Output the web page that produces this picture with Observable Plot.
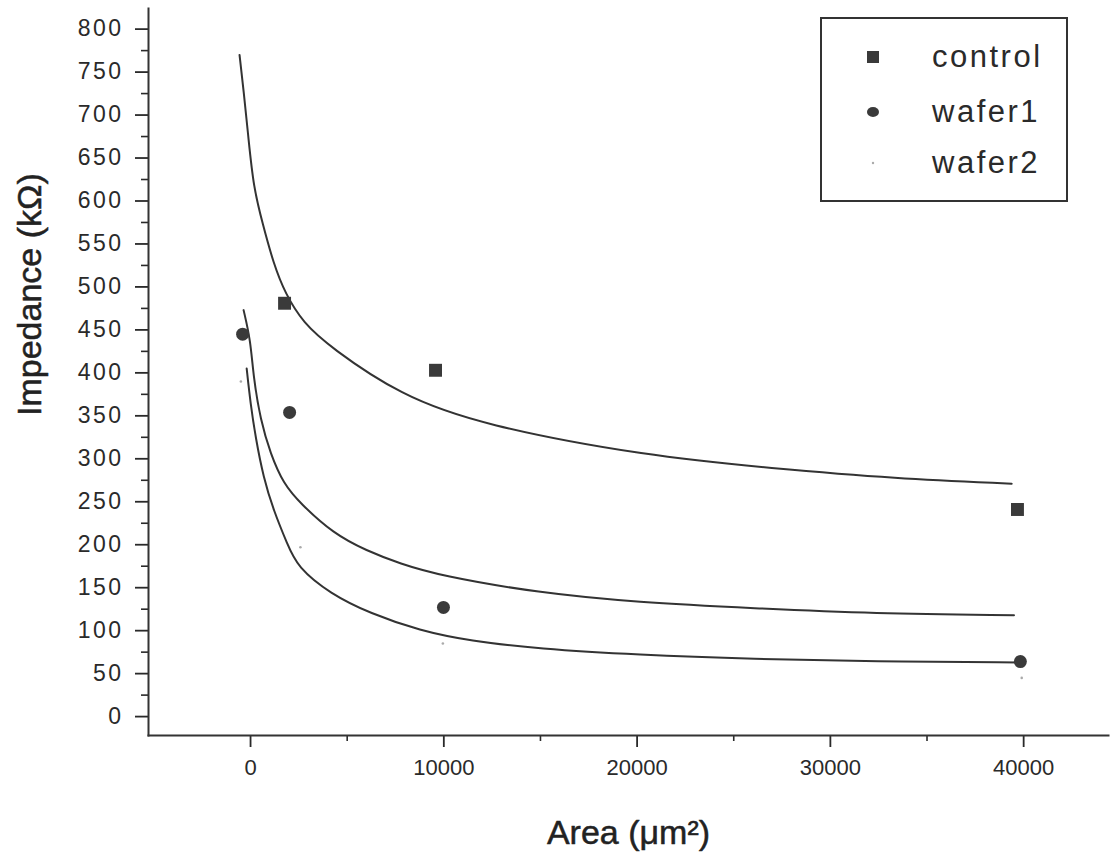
<!DOCTYPE html>
<html><head><meta charset="utf-8">
<script src="https://cdn.jsdelivr.net/npm/d3@7"></script>
<script src="https://cdn.jsdelivr.net/npm/@observablehq/plot@0.6"></script>
<style>
body{margin:0;background:#fff;}
#wrap{position:relative;width:1111px;height:857px;background:#fff;}
#legend{position:absolute;left:820px;top:17px;width:248px;height:185px;border:2px solid #333;box-sizing:border-box;font-family:Arial,"Liberation Sans",sans-serif;color:#2a2a2a;}
#legend .row{position:absolute;left:0;width:100%;height:40px;}
#legend svg{position:absolute;left:40px;top:8px;}
#legend span{position:absolute;left:110px;top:0;font-size:31px;line-height:40px;letter-spacing:2.5px;}
</style></head>
<body><div id="wrap"><div id="chart"></div><div id="legend"></div></div>
<script>
// Tick values
const yTicks = [0,50,100,150,200,250,300,350,400,450,500,550,600,650,700,750,800];
const yMinor = [25,75,125,175,225,275,325,375,425,475,525,575,625,675,725,775];
const xTicks = [0,10000,20000,30000,40000];
const xMinor = [5000,15000,25000,35000];

// Measured points (Area µm², Impedance kΩ)
const controlArea = [1760, 9570, 39680];
const controlImp  = [481, 403, 241];
const wafer1Area  = [-410, 2020, 9980, 39830];
const wafer1Imp   = [445, 354, 127, 64];
const wafer2Area  = [-500, 2580, 9950, 39900];
const wafer2Imp   = [390, 197, 85, 45];

// Fitted curves
const fitControlArea = [-570,-360,-100,155,620,1190,1800,2730,4120,7730,12000,20570,26960,33400,39380];
const fitControlImp  = [770,729,671,616,574,527,492,458,430,374,339,303,289,277,271];
const fitW1Area = [-360,0,150,515,1030,1700,2580,4280,6000,7730,9800,14900,20000,26080,32200,39500];
const fitW1Imp  = [473,438,395,345,306,271,248,213,193,178,164,144,133,126,120,118];
const fitW2Area = [-200,0,260,670,1190,1900,2420,4120,6190,8760,11340,14900,20000,26080,32200,39950];
const fitW2Imp  = [405,364,325,278,240,201,174,143,120,100,88,79,72,67,64,63];

const seriesNames = ["control","wafer1","wafer2"];

const zip = (xs, ys) => xs.map((x,i)=>({x, y: ys[i]}));
const ink = "#333";

const chart = Plot.plot({
  width:1111, height:857,
  marginLeft:148, marginRight:3, marginTop:8, marginBottom:122,
  x:{domain:[-5280,44390]},
  y:{domain:[-22,824]},
  style:{fontFamily:"Arial, 'Liberation Sans', sans-serif", background:"#fff", color:"#2a2a2a"},
  marks:[
    Plot.axisY({ticks:yTicks, tickSize:13, tickPadding:12, fontSize:23, label:null, tickFormat:d3.format("d"), strokeWidth:1.8}),
    Plot.axisY({ticks:yMinor, tickSize:7, tickFormat:()=>"" , label:null, strokeWidth:1.6}),
    Plot.axisX({ticks:xTicks, tickSize:12, tickPadding:12, fontSize:22, label:null, tickFormat:d3.format("d"), strokeWidth:1.8}),
    Plot.axisX({ticks:xMinor, tickSize:6, tickFormat:()=>"", label:null, strokeWidth:1.6}),
    Plot.frame({anchor:"left", stroke:ink, strokeWidth:2}),
    Plot.frame({anchor:"bottom", stroke:ink, strokeWidth:2}),
    Plot.line(zip(fitControlArea, fitControlImp), {x:"x", y:"y", curve:"basis", stroke:ink, strokeWidth:2}),
    Plot.line(zip(fitW1Area, fitW1Imp), {x:"x", y:"y", curve:"basis", stroke:ink, strokeWidth:2}),
    Plot.line(zip(fitW2Area, fitW2Imp), {x:"x", y:"y", curve:"basis", stroke:ink, strokeWidth:2}),
    Plot.dot(zip(controlArea, controlImp), {x:"x", y:"y", symbol:"square", r:7.3, fill:"#3a3a3a", stroke:"none"}),
    Plot.dot(zip(wafer1Area, wafer1Imp), {x:"x", y:"y", symbol:"circle", r:6.5, fill:"#3a3a3a", stroke:"none"}),
    Plot.dot(zip(wafer2Area, wafer2Imp), {x:"x", y:"y", symbol:"circle", r:1.3, fill:"#aaa", stroke:"none"}),
    Plot.text(["Area (\u03bcm\u00b2)"], {frameAnchor:"bottom", dy:108, text:d=>d, fontSize:34, lineAnchor:"bottom", fill:"#222", stroke:"#222", strokeWidth:0.5}),
    Plot.text(["Impedance (k\u03a9)"], {frameAnchor:"left", dx:-118, dy:44, rotate:-90, text:d=>d, fontSize:34, fill:"#222", stroke:"#222", strokeWidth:0.5})
  ]
});
document.getElementById("chart").appendChild(chart);
d3.select(chart).selectAll('[aria-label="y-axis tick label"] text').style("letter-spacing","2.5px");

// Legend
const legend = d3.select("#legend");
const markers = [
  g => g.append("rect").attr("x",5).attr("y",6).attr("width",12).attr("height",12).attr("fill","#3a3a3a"),
  g => g.append("ellipse").attr("cx",11).attr("cy",12).attr("rx",6).attr("ry",5).attr("fill","#3a3a3a"),
  g => g.append("circle").attr("cx",11).attr("cy",12).attr("r",1.2).attr("fill","#aaa")
];
const rowTops = [18, 73, 124];
seriesNames.forEach((name,i)=>{
  const row = legend.append("div").attr("class","row").style("top", rowTops[i]+"px");
  const s = row.append("svg").attr("width",24).attr("height",24);
  markers[i](s);
  row.append("span").text(name);
});
</script></body></html>
